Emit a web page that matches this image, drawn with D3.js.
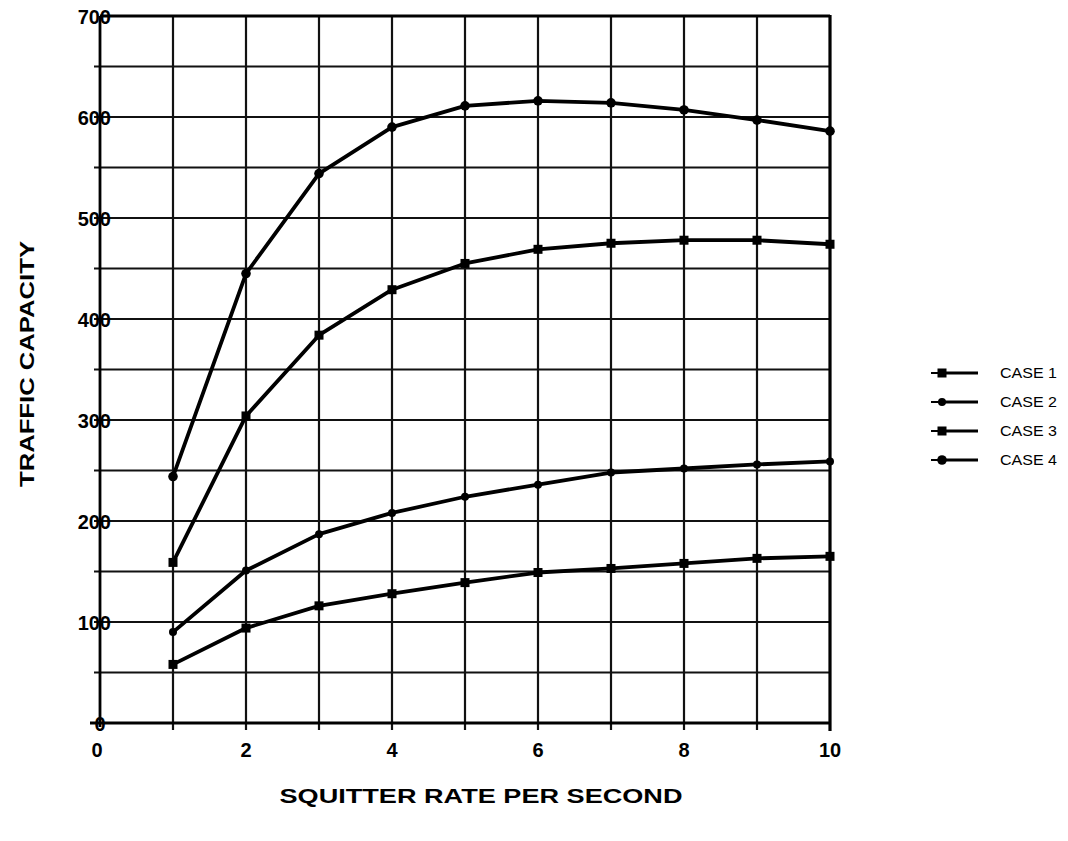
<!DOCTYPE html>
<html>
<head>
<meta charset="utf-8">
<script src="https://cdn.jsdelivr.net/npm/d3@7"></script>
<style>
  html, body { margin: 0; padding: 0; background: #fff; }
  svg { display: block; font-family: "Liberation Sans", Arial, Helvetica, sans-serif; }
</style>
</head>
<body>
<svg id="chart" width="1068" height="841"></svg>
<script>
// ---- data ----
const squitterRate = [1, 2, 3, 4, 5, 6, 7, 8, 9, 10];
const case1 = [159, 304, 384, 429, 455, 469, 475, 478, 478, 474];
const case2 = [90, 151, 187, 208, 224, 236, 248, 252, 256, 259];
const case3 = [58, 94, 116, 128, 139, 149, 153, 158, 163, 165];
const case4 = [244, 445, 544, 590, 611, 616, 614, 607, 597, 586];
const seriesNames = ["CASE 1", "CASE 2", "CASE 3", "CASE 4"];
const seriesMarkers = ["square", "circle", "square", "bigcircle"];
const xTickLabels = [0, 2, 4, 6, 8, 10];
const yTickLabels = [0, 100, 200, 300, 400, 500, 600, 700];
const xGrid = [1, 2, 3, 4, 5, 6, 7, 8, 9];
const yGrid = [50, 100, 150, 200, 250, 300, 350, 400, 450, 500, 550, 600, 650];
const xTitle = "SQUITTER RATE PER SECOND";
const yTitle = "TRAFFIC CAPACITY";

const seriesValues = [case1, case2, case3, case4];

const svg = d3.select("#chart");
const x = d3.scaleLinear().domain([0, 10]).range([100, 830]);
const y = d3.scaleLinear().domain([0, 700]).range([723, 16]);

const g = svg.append("g");

// horizontal gridlines (with small stubs left of axis)
g.selectAll("line.hg").data(yGrid).join("line")
  .attr("class", "hg")
  .attr("x1", x(0) - 6).attr("x2", x(10))
  .attr("y1", d => y(d)).attr("y2", d => y(d))
  .attr("stroke", "#111").attr("stroke-width", 2.2);

// vertical gridlines (with stubs below axis)
g.selectAll("line.vg").data(xGrid).join("line")
  .attr("class", "vg")
  .attr("x1", d => x(d)).attr("x2", d => x(d))
  .attr("y1", y(700)).attr("y2", y(0) + 7)
  .attr("stroke", "#111").attr("stroke-width", 2.2);

// frame: top, right, left axis, bottom axis
g.append("line").attr("x1", x(0)).attr("x2", x(10)).attr("y1", y(700)).attr("y2", y(700))
  .attr("stroke", "#000").attr("stroke-width", 2.8);
g.append("line").attr("x1", x(10)).attr("x2", x(10)).attr("y1", y(700) - 1).attr("y2", y(0) + 8)
  .attr("stroke", "#000").attr("stroke-width", 3.2);
g.append("line").attr("x1", x(0)).attr("x2", x(0)).attr("y1", y(700)).attr("y2", y(0) + 4)
  .attr("stroke", "#000").attr("stroke-width", 2.8);
g.append("line").attr("x1", x(0) - 10).attr("x2", x(10)).attr("y1", y(0)).attr("y2", y(0))
  .attr("stroke", "#000").attr("stroke-width", 3.2);

// y tick labels
g.selectAll("text.yt").data(yTickLabels).join("text")
  .attr("class", "yt")
  .attr("x", d => d === 0 ? x(0) + 5.5 : x(0) + 11)
  .attr("y", d => y(d) + 7.5)
  .attr("text-anchor", "end")
  .attr("font-weight", "bold").attr("font-size", 20)
  .text(d => d);

// x tick labels
g.selectAll("text.xt").data(xTickLabels).join("text")
  .attr("class", "xt")
  .attr("x", d => x(d) + (d === 0 ? -3 : 0))
  .attr("y", 757)
  .attr("text-anchor", "middle")
  .attr("font-weight", "bold").attr("font-size", 20)
  .text(d => d);

// axis titles
g.append("text")
  .attr("x", 481).attr("y", 803)
  .attr("text-anchor", "middle")
  .attr("font-weight", "bold").attr("font-size", 21)
  .attr("textLength", 403).attr("lengthAdjust", "spacingAndGlyphs")
  .text(xTitle);

g.append("text")
  .attr("transform", "translate(34,364) rotate(-90)")
  .attr("text-anchor", "middle")
  .attr("font-weight", "bold").attr("font-size", 21)
  .attr("textLength", 246).attr("lengthAdjust", "spacingAndGlyphs")
  .text(yTitle);

// series lines
const line = d3.line().x((d, i) => x(squitterRate[i])).y(d => y(d));

function drawMarker(sel, type, cx, cy) {
  if (type === "square") {
    sel.append("rect").attr("x", cx - 4.5).attr("y", cy - 4.5).attr("width", 9).attr("height", 9).attr("fill", "#000");
  } else if (type === "circle") {
    sel.append("circle").attr("cx", cx).attr("cy", cy).attr("r", 4).attr("fill", "#000");
  } else {
    sel.append("circle").attr("cx", cx).attr("cy", cy).attr("r", 4.8).attr("fill", "#000");
  }
}

seriesValues.forEach((vals, si) => {
  const sg = g.append("g");
  sg.append("path").datum(vals)
    .attr("d", line)
    .attr("fill", "none").attr("stroke", "#000").attr("stroke-width", 3.8)
    .attr("stroke-linejoin", "round");
  vals.forEach((v, i) => drawMarker(sg, seriesMarkers[si], x(squitterRate[i]), y(v)));
});

// legend
const legendY = [373, 402, 431, 460];
seriesNames.forEach((name, i) => {
  const lg = g.append("g");
  lg.append("line").attr("x1", 931).attr("x2", 942).attr("y1", legendY[i]).attr("y2", legendY[i])
    .attr("stroke", "#000").attr("stroke-width", 2);
  lg.append("line").attr("x1", 942).attr("x2", 978).attr("y1", legendY[i]).attr("y2", legendY[i])
    .attr("stroke", "#000").attr("stroke-width", 3);
  drawMarker(lg, seriesMarkers[i], 942, legendY[i]);
  lg.append("text").attr("x", 1000).attr("y", legendY[i] + 5)
    .attr("font-size", 14.5).attr("textLength", 57).attr("lengthAdjust", "spacingAndGlyphs")
    .text(name);
});
</script>
</body>
</html>
